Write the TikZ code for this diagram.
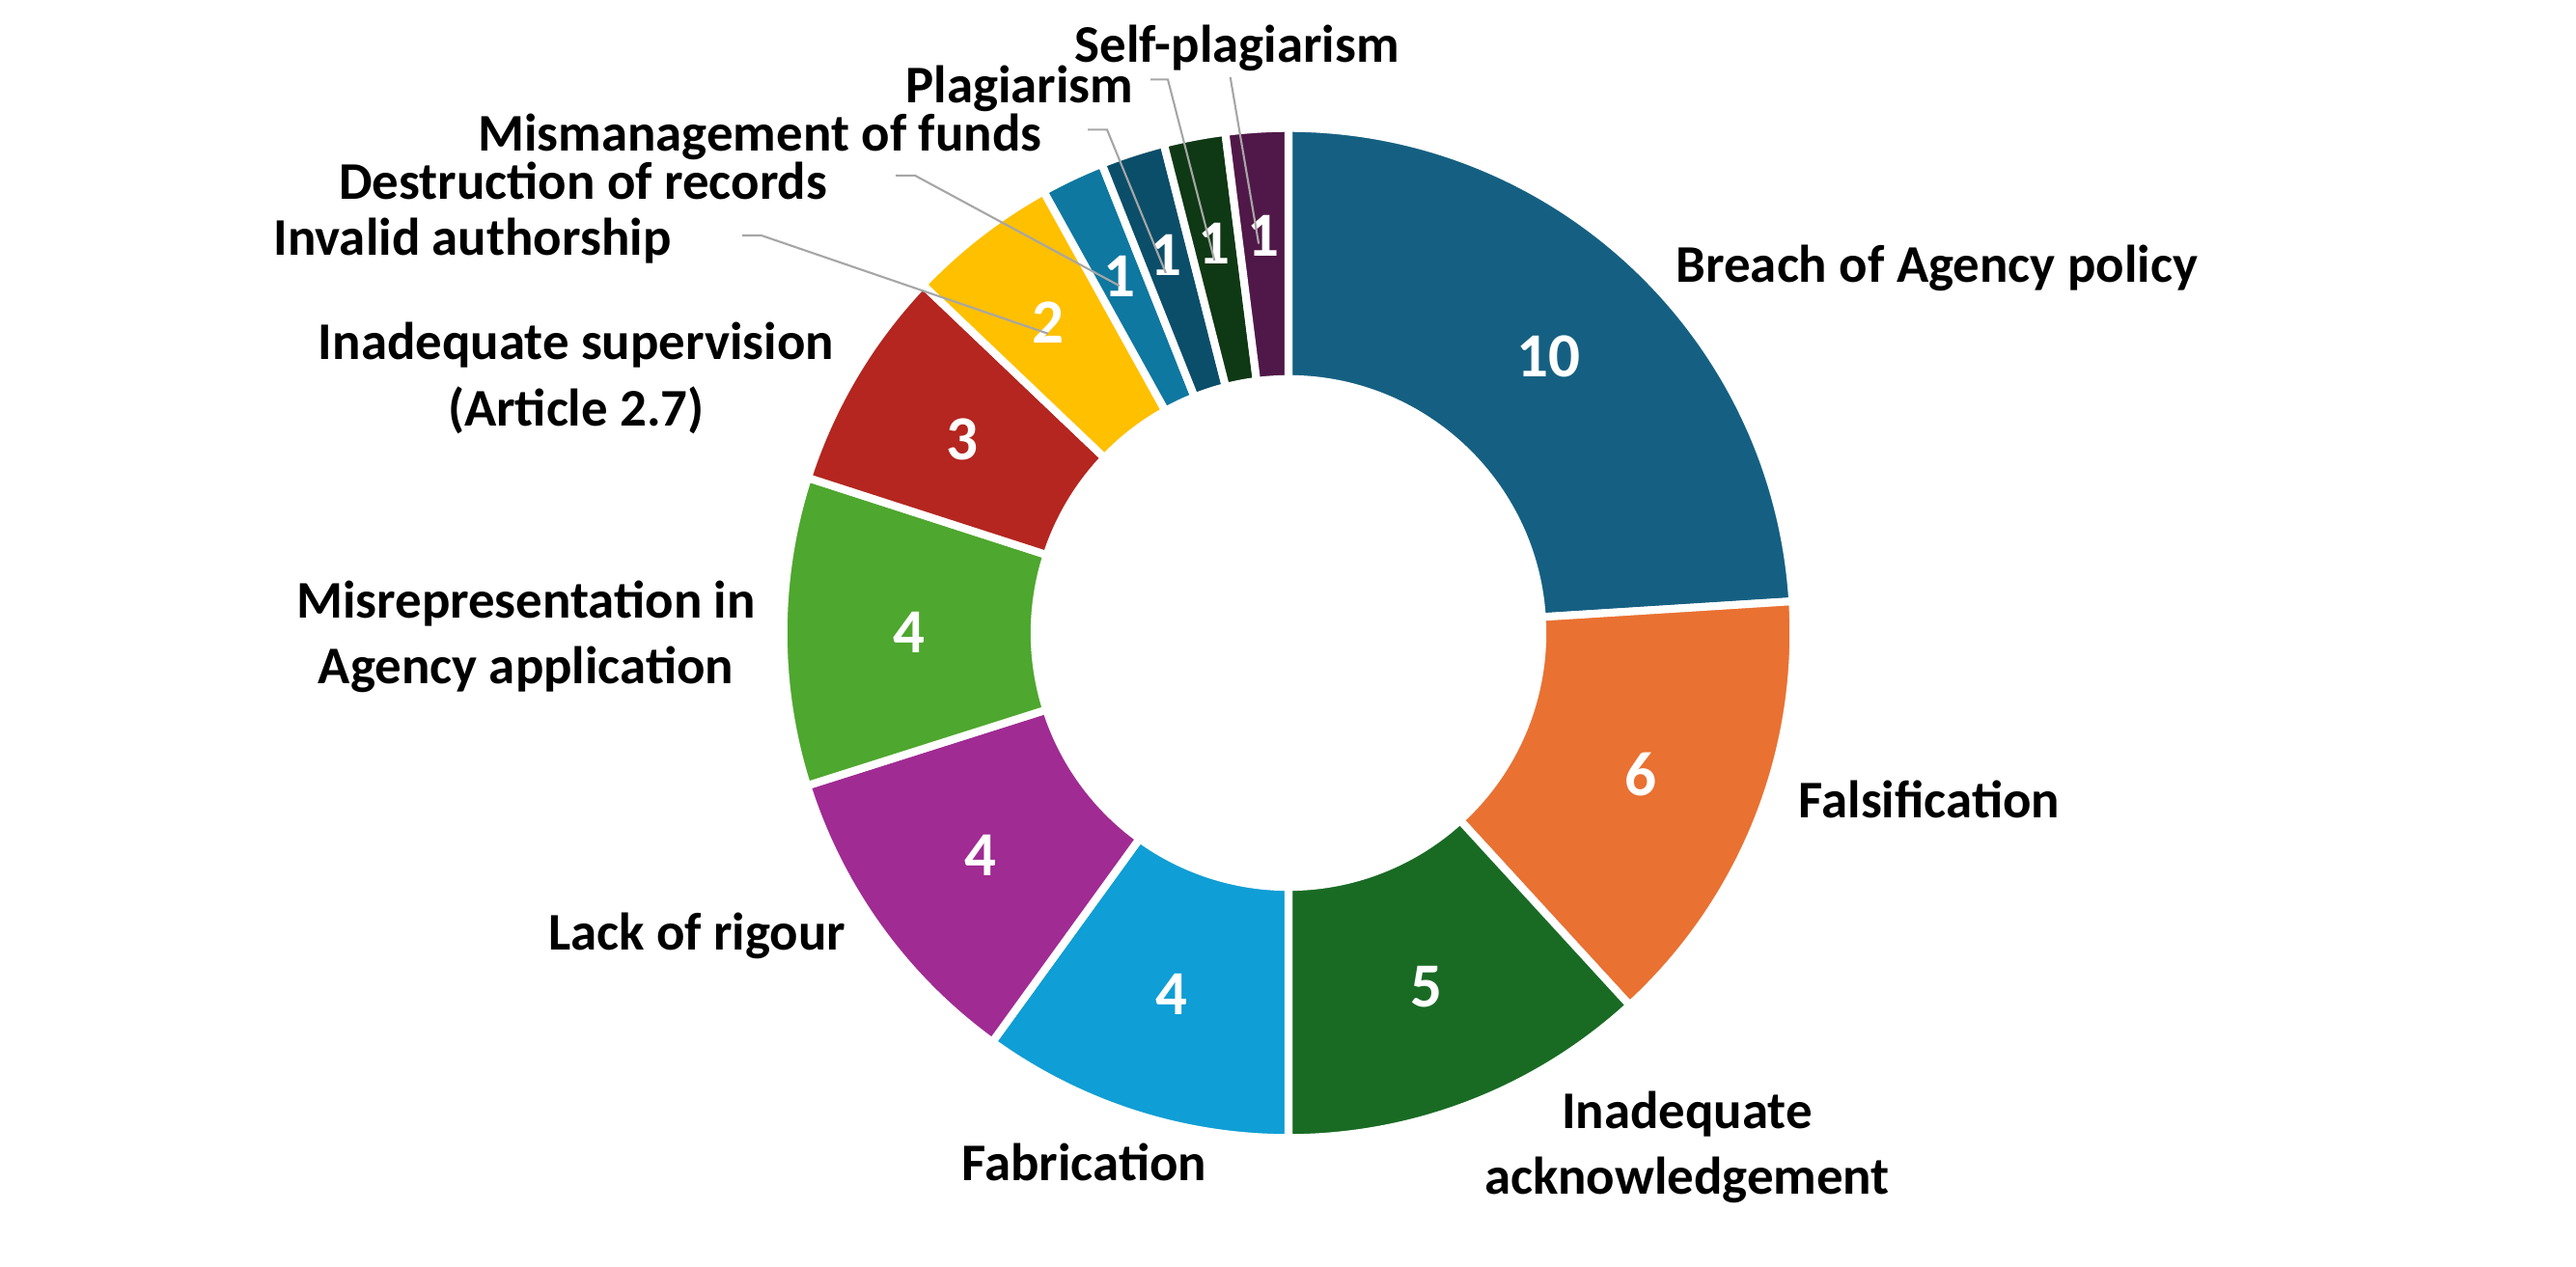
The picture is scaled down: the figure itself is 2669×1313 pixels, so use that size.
\documentclass[tikz,border=0pt]{standalone}
\usepackage{fontspec}
\setmainfont{Carlito}
\usepackage{tikz}
\usepackage{xcolor}

\definecolor{cBreach}{HTML}{156082}
\definecolor{cFals}{HTML}{E97132}
\definecolor{cInad}{HTML}{196B24}
\definecolor{cFab}{HTML}{0F9ED5}
\definecolor{cLack}{HTML}{A02B93}
\definecolor{cMisrep}{HTML}{4EA72E}
\definecolor{cSup}{HTML}{B4261F}
\definecolor{cInvalid}{HTML}{FFC000}
\definecolor{cDestr}{HTML}{0E78A0}
\definecolor{cMisman}{HTML}{0B4E6A}
\definecolor{cPlag}{HTML}{0F3814}
\definecolor{cSelf}{HTML}{501848}
\definecolor{leadgray}{HTML}{A6A6A6}

\begin{document}
\begin{tikzpicture}[x=0.01cm,y=0.01cm,
        lbl/.style={font=\fontsize{15.6}{19.5}\selectfont\bfseries,inner sep=0pt},
        num/.style={font=\fontsize{18.5}{20}\selectfont\bfseries,text=white,inner sep=0pt},
        lead/.style={draw=leadgray,line width=0.6pt}]
    \useasboundingbox (0,0) rectangle (2669,1313);
    % donut, clockwise from the top
    \begin{scope}[shift={(1335,657)}]
        \foreach \a/\b/\col/\r/\v/\nm in {0/86.4/cBreach/3.93/10/nBreach,
                86.4/137.5/cFals/3.93/6/nFals,
                137.5/180/cInad/3.93/5/nInad,
                180/215.9/cFab/3.93/4/nFab,
                215.9/252.4/cLack/3.93/4/nLack,
                252.4/287.9/cMisrep/3.93/4/nMisrep,
                287.9/313.6/cSup/3.93/3/nSup,
                313.6/331/cInvalid/4.07/2/nInvalid,
                331/338.3/cDestr/4.09/1/nDestr,
                338.3/345.7/cMisman/4.11/1/nMisman,
                345.7/352.8/cPlag/4.11/1/nPlag,
                352.8/360/cSelf/4.12/1/nSelf}
        {
            \filldraw[fill=\col,draw=white,line width=2.3pt]
                ({90-\a}:5.23cm) arc[start angle={90-\a},end angle={90-\b},radius=5.23cm]
                -- ({90-\b}:2.63cm) arc[start angle={90-\b},end angle={90-\a},radius=2.63cm] -- cycle;
            \node[num] (\nm) at ({90-(\a+\b)/2}:\r cm) {\v};
        }
    \end{scope}
    % category labels
    \node[lbl,anchor=base west] (lBreach) at (1736,1020) {Breach of Agency policy};
    \node[lbl,anchor=base west] (lFals) at (1863,465) {Falsification};
    \node[lbl,align=center] (lInad) at (1748,124) {Inadequate\\acknowledgement};
    \node[lbl,anchor=base west] (lFab) at (996,89) {Fabrication};
    \node[lbl,anchor=base east] (lLack) at (877,328) {Lack of rigour};
    \node[lbl,align=center] (lMisrep) at (545,653) {Misrepresentation in\\Agency application};
    \node[lbl,align=center] (lSup) at (597,921) {Inadequate supervision\\(Article 2.7)};
    \node[lbl,anchor=base east] (lInvalid) at (696,1048) {Invalid authorship};
    \node[lbl,anchor=base east] (lDestr) at (858,1106) {Destruction of records};
    \node[lbl,anchor=base east] (lMisman) at (1080,1156) {Mismanagement of funds};
    \node[lbl,anchor=base east] (lPlag) at (1175,1206) {Plagiarism};
    \node[lbl,anchor=base west] (lSelf) at (1113,1248) {Self-plagiarism};
    % leader lines
    \draw[lead] (lInvalid.east) ++(73,6) -- ++(20,0) -- ([yshift=-0.12cm]nInvalid.center);
    \draw[lead] (lDestr.east) ++(70,6) -- ++(20,0) -- ([yshift=-0.1cm]nDestr.center);
    \draw[lead] (lMisman.east) ++(47,8) -- ++(20,0) -- ([yshift=-0.18cm]nMisman.center);
    \draw[lead] (lPlag.east) ++(17,10) -- ++(18,0) -- ([yshift=-0.18cm]nPlag.center);
    \draw[lead] ([xshift=-0.07cm,yshift=-0.05cm]lSelf.south) -- ([xshift=-0.05cm,yshift=-0.08cm]nSelf.center);
\end{tikzpicture}
\end{document}
